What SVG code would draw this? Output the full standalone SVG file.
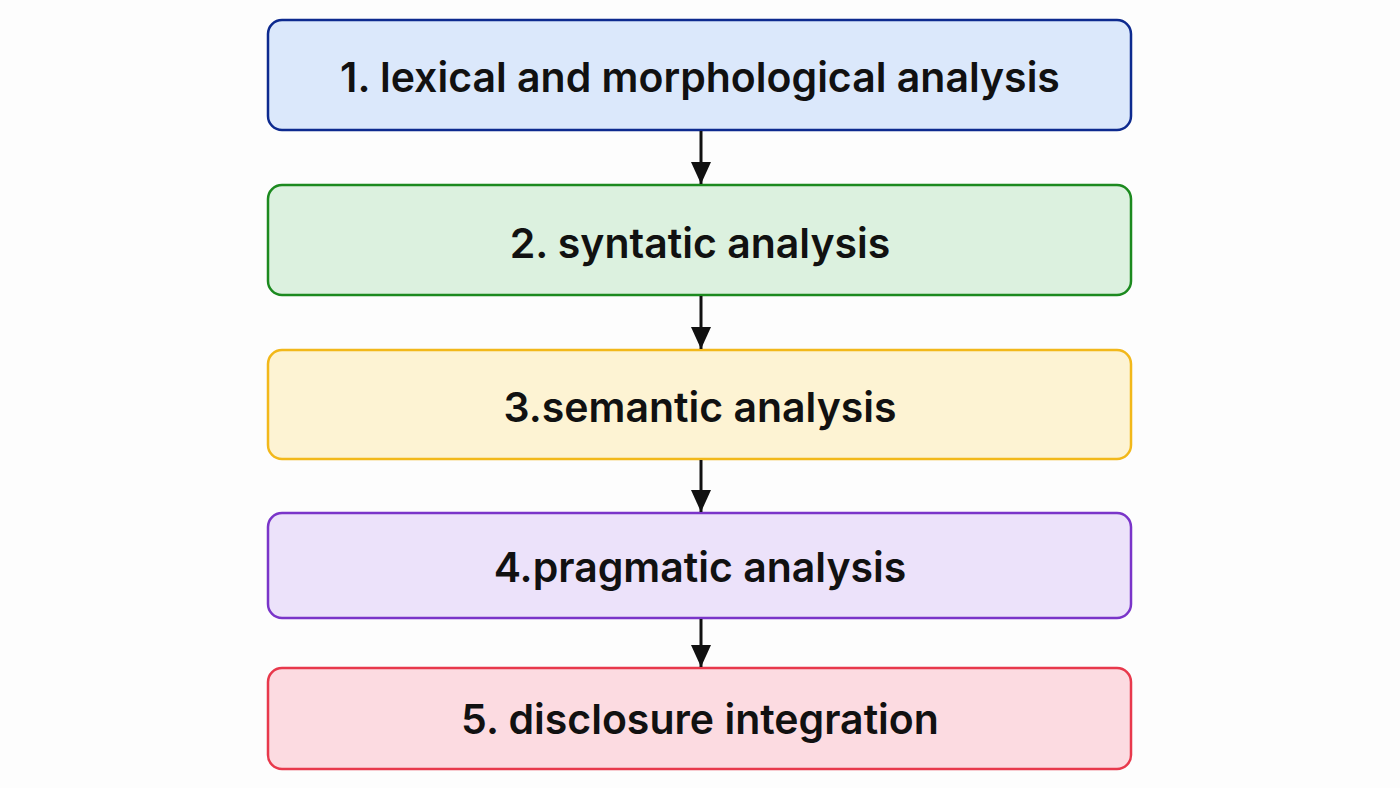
<svg xmlns="http://www.w3.org/2000/svg" width="1400" height="788" viewBox="0 0 1400 788">
<style>
.b{stroke-width:2.5}
.t{font-family:Inter,"Liberation Sans",sans-serif;font-size:41px;font-weight:600;fill:#111;text-anchor:middle;dominant-baseline:central}
.c{stroke:#111;stroke-width:3;fill:none}
</style>
<defs><marker id="a" markerWidth="22" markerHeight="20" refX="22" refY="10" orient="auto" markerUnits="userSpaceOnUse" viewBox="0 0 22 20"><path d="M0,0 L22,10 L0,20 z" fill="#111"/></marker></defs>
<rect width="1400" height="788" fill="#fdfdfd"/>
<g id="n1"><rect class="b" x="268" y="20" width="863" height="110" rx="14" fill="#dbe8fb" stroke="#0d2a8f"/><text class="t" x="700" y="77">1. lexical and morphological analysis</text></g>
<g id="n2"><rect class="b" x="268" y="185" width="863" height="110" rx="14" fill="#dcf1df" stroke="#1c8a1f"/><text class="t" x="700" y="243">2. syntatic analysis</text></g>
<g id="n3"><rect class="b" x="268" y="350" width="863" height="109" rx="14" fill="#fdf3d3" stroke="#f2b81a"/><text class="t" x="700" y="407">3.semantic analysis</text></g>
<g id="n4"><rect class="b" x="268" y="513" width="863" height="105" rx="14" fill="#ece2fa" stroke="#7a35c9"/><text class="t" x="700" y="567">4.pragmatic analysis</text></g>
<g id="n5"><rect class="b" x="268" y="668" width="863" height="101" rx="14" fill="#fcdbe1" stroke="#e8394c"/><text class="t" x="700" y="719">5. disclosure integration</text></g>
<g id="connectors">
<line class="c" x1="701" y1="131" x2="701" y2="184" marker-end="url(#a)"/>
<line class="c" x1="701" y1="296" x2="701" y2="349" marker-end="url(#a)"/>
<line class="c" x1="701" y1="460" x2="701" y2="512" marker-end="url(#a)"/>
<line class="c" x1="701" y1="619" x2="701" y2="667" marker-end="url(#a)"/>
</g>
</svg>
